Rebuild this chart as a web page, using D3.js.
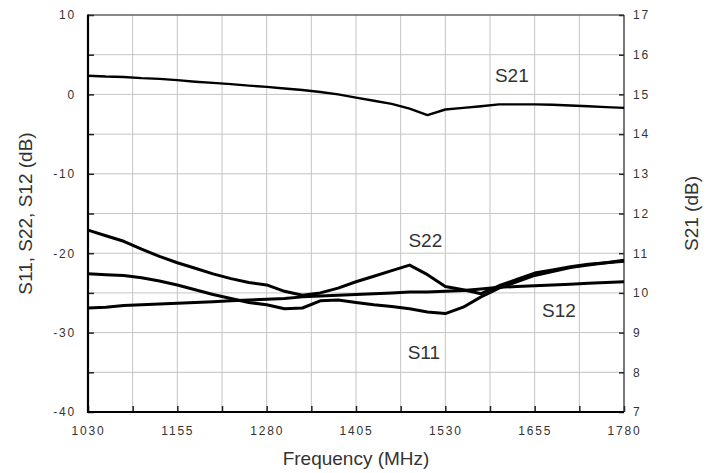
<!DOCTYPE html>
<html>
<head>
<meta charset="utf-8">
<script src="https://cdn.jsdelivr.net/npm/d3@7"></script>
<style>
    body { margin: 0; background: #fff; }
    #chart { width: 714px; height: 473px; }
    text { font-family: "Liberation Sans", Arial, sans-serif; fill: #333; }
    .tick text { font-size: 12px; letter-spacing: 1.8px; }
    .axis-title { font-size: 19px; }
    .series-label { font-size: 19px; }
</style>
</head>
<body>
<div id="chart"></div>
<script>
// frequency samples (MHz)
const freqs = [1030, 1055, 1080, 1105, 1130, 1155, 1180, 1205, 1230, 1255, 1280, 1305, 1330, 1355, 1380,
    1405, 1430, 1455, 1480, 1505, 1530, 1555, 1580, 1605, 1630, 1655, 1680, 1705, 1730, 1755, 1780];

// S21 on right axis (dB)
const s21 = [15.47, 15.45, 15.44, 15.41, 15.39, 15.36, 15.32, 15.29, 15.26, 15.22, 15.19, 15.15, 15.11, 15.06, 15.00,
    14.92, 14.84, 14.76, 14.64, 14.48, 14.62, 14.66, 14.70, 14.75, 14.75, 14.75, 14.74, 14.72, 14.70, 14.68, 14.66];

// S11, S22, S12 on left axis (dB)
const s22 = [-17.1, -17.8, -18.5, -19.5, -20.4, -21.2, -21.9, -22.6, -23.2, -23.7, -24.0, -24.8, -25.3, -25.0, -24.4,
    -23.6, -22.9, -22.2, -21.5, -22.7, -24.2, -24.6, -25.1, -24.1, -23.3, -22.5, -22.1, -21.7, -21.4, -21.2, -21.0];
const s11 = [-22.6, -22.7, -22.8, -23.1, -23.5, -24.0, -24.6, -25.2, -25.7, -26.2, -26.5, -27.0, -26.9, -26.0, -25.9,
    -26.2, -26.5, -26.7, -27.0, -27.4, -27.6, -26.8, -25.5, -24.4, -23.6, -22.8, -22.3, -21.8, -21.5, -21.2, -20.9];
const s12 = [-26.9, -26.8, -26.6, -26.5, -26.4, -26.3, -26.2, -26.1, -26.0, -25.9, -25.8, -25.7, -25.5, -25.4, -25.3,
    -25.2, -25.1, -25.0, -24.9, -24.9, -24.8, -24.7, -24.5, -24.3, -24.2, -24.1, -24.0, -23.9, -23.8, -23.7, -23.6];

// tick values
const freqTicks = d3.range(1030, 1781, 62.5);
const leftTicks = d3.range(-40, 11, 5);
const rightTicks = d3.range(7, 18, 1);

// series name labels: [name, freq, value, axis]
const seriesLabels = [
    ["S21", 1623, 15.31, "right"],
    ["S22", 1502, -19.2, "left"],
    ["S12", 1689, -28.0, "left"],
    ["S11", 1500, -33.3, "left"]
];

class SParamChart {
    constructor(parentElement) {
        this.parentElement = parentElement;
        this.initVis();
    }

    initVis() {
        let vis = this;

        vis.margin = { top: 15, right: 90, bottom: 61, left: 88 };
        vis.width = 714 - vis.margin.left - vis.margin.right;
        vis.height = 473 - vis.margin.top - vis.margin.bottom;

        vis.svg = d3.select("#" + vis.parentElement).append("svg")
            .attr("width", 714)
            .attr("height", 473)
            .append("g")
            .attr("transform", `translate(${vis.margin.left}, ${vis.margin.top})`);

        // scales
        vis.x = d3.scaleLinear().domain([1030, 1780]).range([0, vis.width]);
        vis.yLeft = d3.scaleLinear().domain([-40, 10]).range([vis.height, 0]);
        vis.yRight = d3.scaleLinear().domain([7, 17]).range([vis.height, 0]);

        // grid
        vis.svg.append("g").selectAll("line.vgrid")
            .data(freqTicks)
            .enter().append("line")
            .attr("x1", d => vis.x(d)).attr("x2", d => vis.x(d))
            .attr("y1", 0).attr("y2", vis.height)
            .attr("stroke", "#c4c4c4").attr("stroke-width", 1);

        vis.svg.append("g").selectAll("line.hgrid")
            .data(leftTicks)
            .enter().append("line")
            .attr("y1", d => vis.yLeft(d)).attr("y2", d => vis.yLeft(d))
            .attr("x1", 0).attr("x2", vis.width)
            .attr("stroke", "#c4c4c4").attr("stroke-width", 1);

        // axes (ticks inside)
        let xAxis = d3.axisBottom(vis.x)
            .tickValues(freqTicks)
            .tickSize(-6)
            .tickPadding(14)
            .tickFormat(d => (d - 1030) % 125 === 0 ? d : "");
        let leftAxis = d3.axisLeft(vis.yLeft)
            .tickValues(leftTicks)
            .tickSize(-6)
            .tickPadding(12)
            .tickFormat(d => d % 10 === 0 ? d : "");
        let rightAxis = d3.axisRight(vis.yRight)
            .tickValues(rightTicks)
            .tickSize(-5)
            .tickPadding(9);

        vis.svg.append("g").attr("class", "axis")
            .attr("transform", `translate(0, ${vis.height})`)
            .call(xAxis);
        vis.svg.append("g").attr("class", "axis")
            .call(leftAxis);
        vis.svg.append("g").attr("class", "axis")
            .attr("transform", `translate(${vis.width}, 0)`)
            .call(rightAxis);

        vis.svg.selectAll(".axis .domain").remove();
        vis.svg.selectAll(".axis .tick line").attr("stroke", "#222").attr("stroke-width", 1.5);
        vis.svg.selectAll(".axis .tick text").attr("fill", "#333");

        // frame: thin top/right, thick left/bottom
        vis.svg.append("line").attr("x1", 0).attr("x2", vis.width).attr("y1", 0).attr("y2", 0)
            .attr("stroke", "#333").attr("stroke-width", 1.2);
        vis.svg.append("line").attr("x1", vis.width).attr("x2", vis.width).attr("y1", 0).attr("y2", vis.height)
            .attr("stroke", "#333").attr("stroke-width", 1.2);
        vis.svg.append("line").attr("x1", 0).attr("x2", 0).attr("y1", -0.5).attr("y2", vis.height + 1)
            .attr("stroke", "#000").attr("stroke-width", 2.2);
        vis.svg.append("line").attr("x1", -1).attr("x2", vis.width).attr("y1", vis.height).attr("y2", vis.height)
            .attr("stroke", "#000").attr("stroke-width", 2.2);

        // axis titles
        vis.svg.append("text")
            .attr("class", "axis-title")
            .attr("x", vis.width / 2)
            .attr("y", vis.height + 53)
            .attr("text-anchor", "middle")
            .text("Frequency (MHz)");

        vis.svg.append("text")
            .attr("class", "axis-title")
            .attr("transform", `translate(${32 - vis.margin.left}, ${vis.height / 2}) rotate(-90)`)
            .attr("text-anchor", "middle")
            .text("S11, S22, S12 (dB)");

        vis.svg.append("text")
            .attr("class", "axis-title")
            .attr("transform", `translate(${vis.width + 74}, ${vis.height / 2}) rotate(-90)`)
            .attr("text-anchor", "middle")
            .text("S21 (dB)");

        this.wrangleData();
    }

    wrangleData() {
        let vis = this;

        vis.displayData = [
            { name: "S21", axis: "right", width: 2.4, values: s21 },
            { name: "S22", axis: "left", width: 3, values: s22 },
            { name: "S11", axis: "left", width: 3, values: s11 },
            { name: "S12", axis: "left", width: 3, values: s12 }
        ].map(s => ({
            name: s.name,
            axis: s.axis,
            width: s.width,
            points: freqs.map((f, i) => ({ f: f, v: s.values[i] }))
        }));

        vis.updateVis();
    }

    updateVis() {
        let vis = this;

        let line = axis => d3.line()
            .x(d => vis.x(d.f))
            .y(d => axis === "right" ? vis.yRight(d.v) : vis.yLeft(d.v));

        vis.svg.selectAll(".trace")
            .data(vis.displayData)
            .enter().append("path")
            .attr("class", "trace")
            .attr("fill", "none")
            .attr("stroke", "#000")
            .attr("stroke-width", d => d.width)
            .attr("stroke-linejoin", "round")
            .attr("d", d => line(d.axis)(d.points));

        vis.svg.selectAll(".series-label")
            .data(seriesLabels)
            .enter().append("text")
            .attr("class", "series-label")
            .attr("text-anchor", "middle")
            .attr("x", d => vis.x(d[1]))
            .attr("y", d => d[3] === "right" ? vis.yRight(d[2]) : vis.yLeft(d[2]))
            .text(d => d[0]);
    }
}

new SParamChart("chart");
</script>
</body>
</html>
